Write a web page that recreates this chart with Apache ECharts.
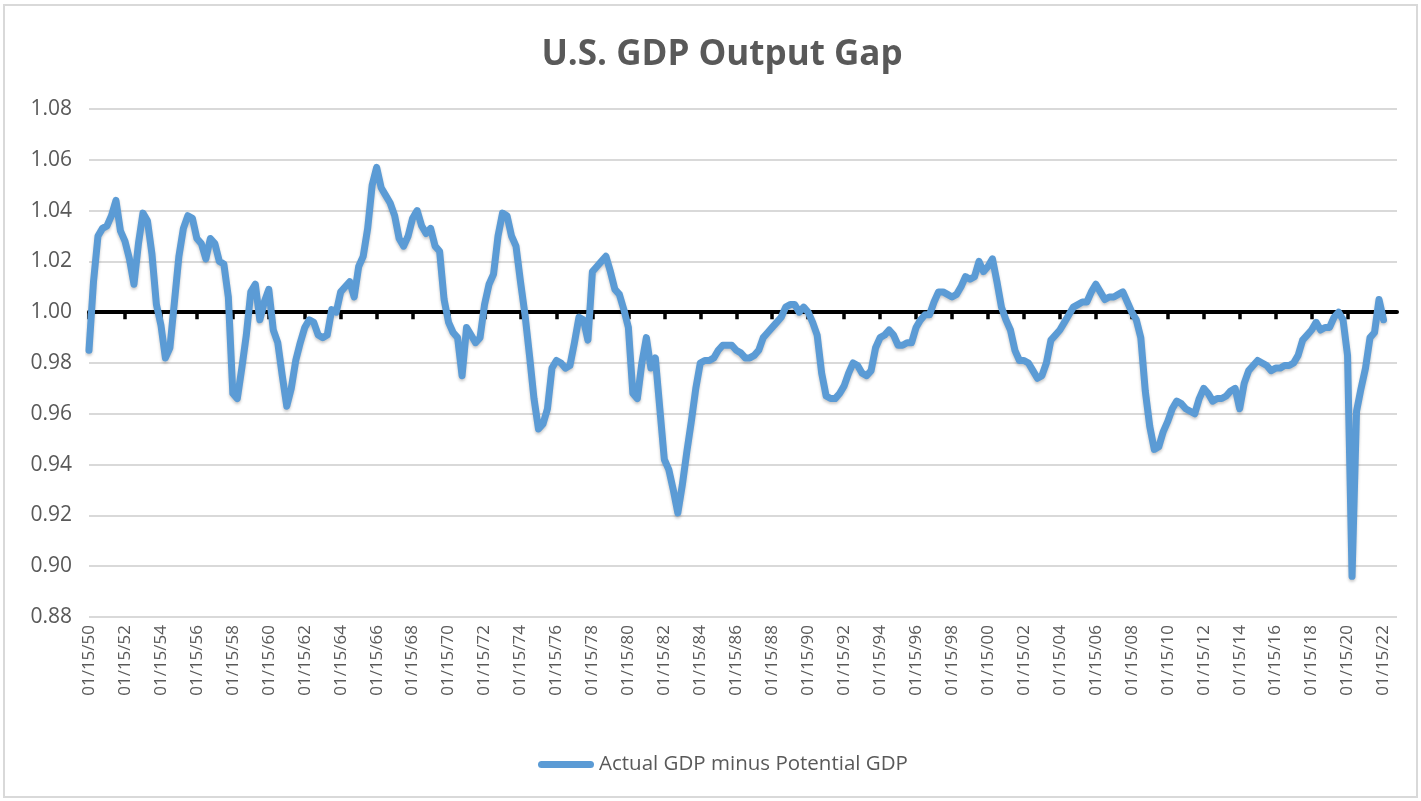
<!DOCTYPE html>
<html>
<head>
<meta charset="utf-8">
<title>U.S. GDP Output Gap</title>
<script src="https://cdn.jsdelivr.net/npm/echarts@6/dist/echarts.min.js"></script>
<style>
  html, body { margin: 0; padding: 0; background: #ffffff; }
  #frame { position: absolute; left: 3px; top: 4px; width: 1411px; height: 790px; border: 2px solid #d9d9d9; box-sizing: content-box; }
  #chart { position: absolute; left: 0; top: 0; width: 1421px; height: 801px; }
</style>
</head>
<body>
<div id="frame"></div>
<div id="chart"></div>
<script>
// Quarterly ratio of actual to potential real GDP, 1950 Q1 onward (one row per year).
const gapByYear = [
  [0.985, 1.012, 1.030, 1.033], // 1950
  [1.034, 1.038, 1.044, 1.032],
  [1.028, 1.021, 1.011, 1.027],
  [1.039, 1.036, 1.023, 1.003],
  [0.995, 0.982, 0.986, 1.004],
  [1.022, 1.033, 1.038, 1.037], // 1955
  [1.029, 1.027, 1.021, 1.029],
  [1.027, 1.020, 1.019, 1.006],
  [0.968, 0.966, 0.978, 0.991],
  [1.008, 1.011, 0.997, 1.004],
  [1.009, 0.993, 0.988, 0.975], // 1960
  [0.963, 0.970, 0.981, 0.988],
  [0.994, 0.997, 0.996, 0.991],
  [0.990, 0.991, 1.001, 1.000],
  [1.008, 1.010, 1.012, 1.006],
  [1.018, 1.022, 1.033, 1.050], // 1965
  [1.057, 1.049, 1.046, 1.043],
  [1.038, 1.029, 1.026, 1.030],
  [1.037, 1.040, 1.034, 1.031],
  [1.033, 1.026, 1.024, 1.005],
  [0.996, 0.992, 0.990, 0.975], // 1970
  [0.994, 0.991, 0.988, 0.990],
  [1.003, 1.011, 1.015, 1.030],
  [1.039, 1.038, 1.030, 1.026],
  [1.012, 0.999, 0.983, 0.966],
  [0.954, 0.956, 0.962, 0.978], // 1975
  [0.981, 0.980, 0.978, 0.979],
  [0.988, 0.998, 0.997, 0.989],
  [1.016, 1.018, 1.020, 1.022],
  [1.016, 1.009, 1.007, 1.001],
  [0.994, 0.968, 0.966, 0.980], // 1980
  [0.990, 0.978, 0.982, 0.962],
  [0.942, 0.938, 0.930, 0.921],
  [0.932, 0.945, 0.957, 0.970],
  [0.980, 0.981, 0.981, 0.982],
  [0.985, 0.987, 0.987, 0.987], // 1985
  [0.985, 0.984, 0.982, 0.982],
  [0.983, 0.985, 0.990, 0.992],
  [0.994, 0.996, 0.998, 1.002],
  [1.003, 1.003, 1.000, 1.002],
  [1.000, 0.996, 0.991, 0.976], // 1990
  [0.967, 0.966, 0.966, 0.968],
  [0.971, 0.976, 0.980, 0.979],
  [0.976, 0.975, 0.977, 0.986],
  [0.990, 0.991, 0.993, 0.991],
  [0.987, 0.987, 0.988, 0.988], // 1995
  [0.994, 0.997, 0.999, 0.999],
  [1.004, 1.008, 1.008, 1.007],
  [1.006, 1.007, 1.010, 1.014],
  [1.013, 1.014, 1.020, 1.016],
  [1.018, 1.021, 1.012, 1.002], // 2000
  [0.997, 0.993, 0.985, 0.981],
  [0.981, 0.980, 0.977, 0.974],
  [0.975, 0.980, 0.989, 0.991],
  [0.993, 0.996, 0.999, 1.002],
  [1.003, 1.004, 1.004, 1.008], // 2005
  [1.011, 1.008, 1.005, 1.006],
  [1.006, 1.007, 1.008, 1.004],
  [1.000, 0.997, 0.990, 0.969],
  [0.955, 0.946, 0.947, 0.953],
  [0.957, 0.962, 0.965, 0.964], // 2010
  [0.962, 0.961, 0.960, 0.966],
  [0.970, 0.968, 0.965, 0.966],
  [0.966, 0.967, 0.969, 0.970],
  [0.962, 0.972, 0.977, 0.979],
  [0.981, 0.980, 0.979, 0.977], // 2015
  [0.978, 0.978, 0.979, 0.979],
  [0.980, 0.983, 0.989, 0.991],
  [0.993, 0.996, 0.993, 0.994],
  [0.994, 0.998, 1.000, 0.997],
  [0.983, 0.896, 0.961, 0.970], // 2020
  [0.978, 0.990, 0.992, 1.005],
  [0.997]                       // 2022
];
const outputGap = gapByYear.flat();

// Category labels: one per quarter, dated the 15th of the quarter's first month.
const firstYear = 1950;
const lastYear = 2022;
const quarterMonths = ['01', '04', '07', '10'];
const categories = [];
for (let y = firstYear; y <= lastYear; y++) {
  const yy = String(y % 100).padStart(2, '0');
  quarterMonths.forEach(m => categories.push(m + '/15/' + yy));
}

const yTicks = { min: 0.88, max: 1.08, step: 0.02 };
const seriesName = 'Actual GDP minus Potential GDP';

const FONT = '"Open Sans", "Noto Sans", sans-serif';
const GREY = '#595959';

const gridTop = 109, gridBottom = 184, chartH = 801;
const plotH = chartH - gridTop - gridBottom;
// The parity line sits where the value axis reads 1.00.
const parityOffset = -plotH * (1.00 - yTicks.min) / (yTicks.max - yTicks.min);

const chart = echarts.init(document.getElementById('chart'), null, { renderer: 'canvas' });
chart.setOption({
  animation: false,
  backgroundColor: 'transparent',
  title: {
    text: 'U.S. GDP Output Gap',
    left: 717,
    textAlign: 'center',
    top: 33,
    textStyle: { fontFamily: FONT, fontWeight: 'bold', fontSize: 35, color: GREY }
  },
  grid: { left: 89, right: 24, top: gridTop, bottom: gridBottom, containLabel: false },
  legend: {
    data: [seriesName],
    left: 533,
    top: 749,
    itemWidth: 56,
    itemHeight: 7,
    icon: 'path://M3.5,0 L52.5,0 A3.5,3.5 0 0 1 52.5,7 L3.5,7 A3.5,3.5 0 0 1 3.5,0 Z',
    textStyle: { fontFamily: FONT, fontSize: 20.5, color: GREY }
  },
  xAxis: [
    {
      type: 'category',
      data: categories,
      boundaryGap: false,
      axisLine: { show: false },
      axisTick: { show: false },
      splitLine: { show: false },
      axisLabel: { interval: 7, rotate: 90, margin: 8, fontFamily: FONT, fontSize: 17, color: GREY }
    },
    {
      type: 'category',
      data: categories,
      boundaryGap: false,
      position: 'bottom',
      offset: parityOffset,
      axisLine: { show: true, lineStyle: { color: '#000000', width: 4 } },
      axisTick: { show: true, interval: 7, length: 7, lineStyle: { color: '#000000', width: 3.5 } },
      axisLabel: { show: false },
      splitLine: { show: false }
    }
  ],
  yAxis: {
    type: 'value',
    min: yTicks.min,
    max: yTicks.max,
    interval: yTicks.step,
    axisLine: { show: false },
    axisTick: { show: false },
    axisLabel: {
      margin: 17,
      fontFamily: FONT,
      fontSize: 21,
      color: GREY,
      formatter: v => v.toFixed(2)
    },
    splitLine: { lineStyle: { color: '#d9d9d9', width: 2 } }
  },
  series: [
    {
      name: seriesName,
      type: 'line',
      xAxisIndex: 0,
      data: outputGap,
      showSymbol: false,
      symbol: 'none',
      z: 5,
      itemStyle: { color: '#5b9bd5' },
      lineStyle: {
        color: '#5b9bd5',
        width: 7,
        cap: 'round',
        join: 'round',
        shadowColor: 'rgba(0,0,0,0.22)',
        shadowBlur: 3,
        shadowOffsetY: 2
      }
    }
  ]
});
</script>
</body>
</html>
